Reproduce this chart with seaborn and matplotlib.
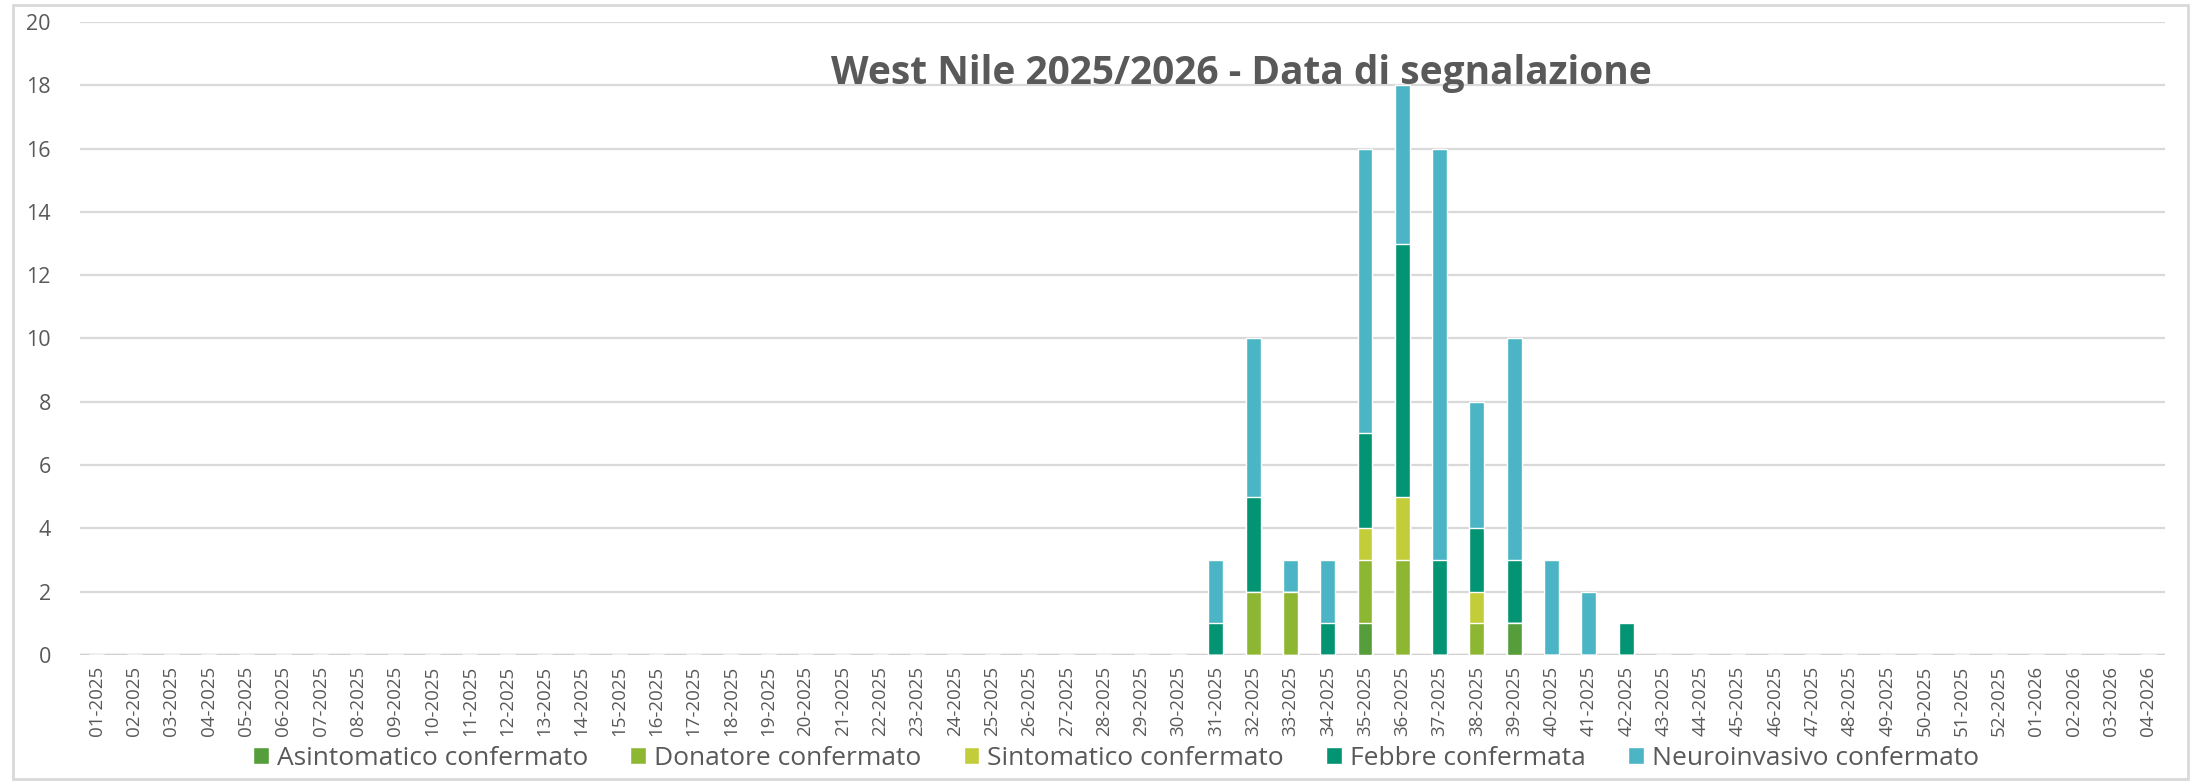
import numpy as np
import pandas as pd
from matplotlib import pyplot as plt
from matplotlib.patches import Patch, Rectangle
import seaborn as sns

weeks = [f'{w:02d}-2025' for w in range(1, 53)] + [f'{w:02d}-2026' for w in range(1, 5)]

# cases per week (only weeks 31-42 of 2025 have data)
case_weeks = ['31-2025', '32-2025', '33-2025', '34-2025', '35-2025', '36-2025',
              '37-2025', '38-2025', '39-2025', '40-2025', '41-2025', '42-2025']
asintomatico = [0, 0, 0, 0, 1, 0, 0, 0, 1, 0, 0, 0]
donatore = [0, 2, 2, 0, 2, 3, 0, 1, 0, 0, 0, 0]
sintomatico = [0, 0, 0, 0, 1, 2, 0, 1, 0, 0, 0, 0]
febbre = [1, 3, 0, 1, 3, 8, 3, 2, 2, 0, 0, 1]
neuroinvasivo = [2, 5, 1, 2, 9, 5, 13, 4, 7, 3, 2, 0]

series = ['Asintomatico confermato', 'Donatore confermato', 'Sintomatico confermato',
          'Febbre confermata', 'Neuroinvasivo confermato']
colors = ['#559E3B', '#8DB733', '#C3CD3A', '#039473', '#4BB5C6']

df = pd.DataFrame({'week': weeks})
for name, vals in zip(series, [asintomatico, donatore, sintomatico, febbre, neuroinvasivo]):
    m = dict(zip(case_weeks, vals))
    df[name] = df['week'].map(m).fillna(0)

# cumulative heights for stacking (draw tallest first)
cum = df[series].cumsum(axis=1)

sns.set_style('white')
plt.rcParams['font.family'] = ['Open Sans', 'DejaVu Sans']

fig = plt.figure(figsize=(22.12, 7.82), dpi=100)
ax = fig.add_axes([0.0362, 0.1624, 0.9426, 0.8095])

for name, col in reversed(list(zip(series, colors))):
    sns.barplot(x=df['week'], y=cum[name], order=weeks, color=col, saturation=1,
                width=0.4, ax=ax, zorder=3)

ax.set_ylim(0, 20)
ax.set_yticks(range(0, 21, 2))
ax.set_xlim(-0.45, 55.45)
ax.yaxis.grid(True, color='#D9D9D9', linewidth=1.6, zorder=0)
ax.axhline(0, color='#D0D0D0', linewidth=2.5, zorder=2)
for s in ax.spines.values():
    s.set_visible(False)
ax.tick_params(axis='y', length=0, labelsize=15.5, labelcolor='#595959', pad=21)
ax.tick_params(axis='x', length=0, labelsize=13.5, labelcolor='#595959', rotation=90, pad=8)
ax.set_xlabel('')
ax.set_ylabel('')

ax.text(0.557, 0.918, 'West Nile 2025/2026 - Data di segnalazione', transform=ax.transAxes,
        ha='center', va='center', fontsize=28, fontweight='bold', color='#595959')

handles = [Patch(facecolor=c, label=n) for n, c in zip(series, colors)]
fig.legend(handles=handles, loc='center', bbox_to_anchor=(0.5045, 0.03), ncol=5,
           frameon=False, fontsize=19, labelcolor='#595959', handlelength=0.6,
           handleheight=0.6, handletextpad=0.3, columnspacing=1.6)

fig.add_artist(Rectangle((0.006, 0.004), 0.983, 0.99, transform=fig.transFigure,
                         fill=False, edgecolor='#D9D9D9', linewidth=2))

fig.savefig('out.png', dpi=100)
